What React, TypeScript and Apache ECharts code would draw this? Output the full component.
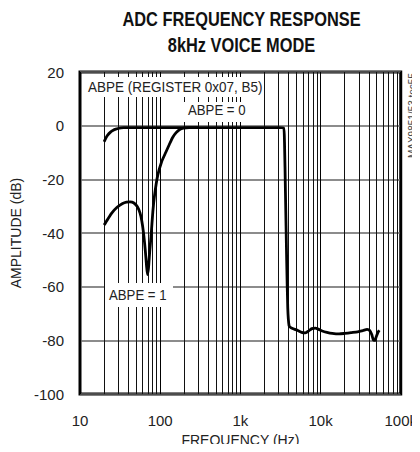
import React, { useEffect, useRef } from "react";
import * as echarts from "echarts";

const xTickLabels: Record<number, string> = { 10: "10", 100: "100", 1000: "1k", 10000: "10k", 100000: "100k" };
const yTicks = [-100, -80, -60, -40, -20, 0, 20];

// ABPE = 0 response
const freq0 = [20, 21, 22, 24, 26, 28, 31, 35, 40, 50, 60, 80, 100, 200, 500, 1000, 2000, 3000, 3450, 3550, 3650, 3780, 3900, 4050, 4300, 4700, 5200, 5800, 6400, 7000, 7800, 8600, 9500, 10500, 12000, 14000, 17000, 20000, 24000, 29000, 34000, 38000, 41000, 43500, 45500, 47500, 49500, 52000, 54000];
const db0 = [-6, -4.6, -3.6, -2.4, -1.7, -1.3, -0.9, -0.75, -0.7, -0.7, -0.7, -0.7, -0.7, -0.7, -0.7, -0.7, -0.7, -0.7, -0.8, -6, -25, -50, -68, -74.5, -75.3, -75.8, -76.3, -77, -77.2, -76.6, -75.6, -75.4, -75.9, -76.5, -77, -77.4, -77.6, -77.4, -77.1, -76.8, -76.3, -75.9, -76.3, -77.8, -79.8, -80, -78.6, -77, -76.2];

// ABPE = 1 response
const freq1 = [20, 22, 25, 29, 34, 38, 42, 47, 52, 56, 59, 62, 65, 67.5, 69.5, 71.5, 74, 77, 81, 85, 93, 104, 118, 130, 143, 158, 175, 195, 230, 300];
const db1 = [-37, -35, -32.5, -30.4, -29, -28.5, -28.4, -28.8, -30.2, -32.5, -35.5, -40, -46, -52, -55.5, -53, -47, -41, -32, -26, -18.6, -13.5, -9.8, -7, -4.4, -2.6, -1.4, -0.9, -0.7, -0.7];

const gridMultipliers = [2, 3, 4, 5, 6, 7, 8, 9];
const gridDecades = [10, 100, 1000, 10000];

const FONT = "'Liberation Sans', Arial, Helvetica, sans-serif";

export default function App() {
  const ref = useRef<HTMLDivElement>(null);
  useEffect(() => {
    if (!ref.current) return;
    const chart = echarts.init(ref.current, undefined, { renderer: "svg" });
    const vLines: { xAxis: number }[] = [];
    gridDecades.forEach((d) => gridMultipliers.forEach((m) => vLines.push({ xAxis: d * m })));
    const labelText = (x: number, y: number, text: string, sx: number) => ({
      type: "text",
      x,
      y,
      z: 11,
      scaleX: sx,
      style: { text, fontFamily: FONT, fontSize: 15, fill: "#222", verticalAlign: "top" },
    });
    const whiteBox = (x: number, y: number, width: number, height: number) => ({
      type: "rect",
      z: 10,
      shape: { x, y, width, height },
      style: { fill: "#fff" },
    });
    chart.setOption({
      animation: false,
      backgroundColor: "#fff",
      grid: { left: 80, right: 17, top: 72, bottom: 55, show: true, borderColor: "#000", borderWidth: 3, backgroundColor: "transparent" },
      xAxis: {
        type: "log",
        logBase: 10,
        min: 10,
        max: 100000,
        name: "FREQUENCY (Hz)",
        nameLocation: "middle",
        nameGap: 36,
        nameTextStyle: { fontFamily: FONT, fontSize: 14, color: "#222" },
        axisLine: { show: false },
        axisTick: { show: false },
        axisLabel: { margin: 19, fontFamily: FONT, fontSize: 15, color: "#222", formatter: (v: number) => xTickLabels[Math.round(v)] ?? "" },
        splitLine: { show: true, lineStyle: { color: "#000", width: 1 } },
      },
      yAxis: {
        type: "value",
        min: -100,
        max: 20,
        interval: 20,
        name: "AMPLITUDE (dB)",
        nameLocation: "middle",
        nameGap: 46,
        nameTextStyle: { fontFamily: FONT, fontSize: 14, color: "#222" },
        axisLine: { show: false },
        axisTick: { show: false },
        axisLabel: { margin: 16, fontFamily: FONT, fontSize: 15, color: "#222", formatter: (v: number) => (yTicks.includes(v) ? String(v) : "") },
        splitLine: { show: true, lineStyle: { color: "#666", width: 1.6 } },
      },
      series: [
        {
          type: "line",
          data: [],
          silent: true,
          markLine: {
            silent: true,
            symbol: "none",
            label: { show: false },
            lineStyle: { color: "#111", width: 1, type: "solid" },
            data: vLines,
          },
        },
        {
          type: "line",
          data: freq0.map((f, i) => [f, db0[i]]),
          showSymbol: false,
          smooth: 0.2,
          lineStyle: { color: "#000", width: 2.8 },
          z: 5,
        },
        {
          type: "line",
          data: freq1.map((f, i) => [f, db1[i]]),
          showSymbol: false,
          smooth: 0.2,
          lineStyle: { color: "#000", width: 2.8 },
          z: 5,
        },
      ],
      graphic: [
        { type: "text", x: 241.5, y: 8, scaleX: 0.78, style: { text: "ADC FREQUENCY RESPONSE", align: "center", verticalAlign: "top", fontFamily: FONT, fontWeight: "bold", fontSize: 21, fill: "#111" } },
        { type: "text", x: 241.5, y: 34, scaleX: 0.78, style: { text: "8kHz VOICE MODE", align: "center", verticalAlign: "top", fontFamily: FONT, fontWeight: "bold", fontSize: 21, fill: "#111" } },
        whiteBox(82, 77, 182, 20),
        labelText(88, 79, "ABPE (REGISTER 0x07, B5)", 0.9),
        whiteBox(183, 102, 70, 20),
        labelText(188, 102, "ABPE = 0", 0.88),
        whiteBox(105, 283, 68, 24),
        labelText(109, 287, "ABPE = 1", 0.88),
        { type: "text", x: 417, y: 73, rotation: Math.PI / 2, style: { text: "MAX9851/53 toc55", align: "right", verticalAlign: "bottom", fontFamily: FONT, fontSize: 10, fill: "#444" } },
      ],
    });
    return () => chart.dispose();
  }, []);
  return <div ref={ref} style={{ width: 420, height: 452, margin: -8 }} />;
}
